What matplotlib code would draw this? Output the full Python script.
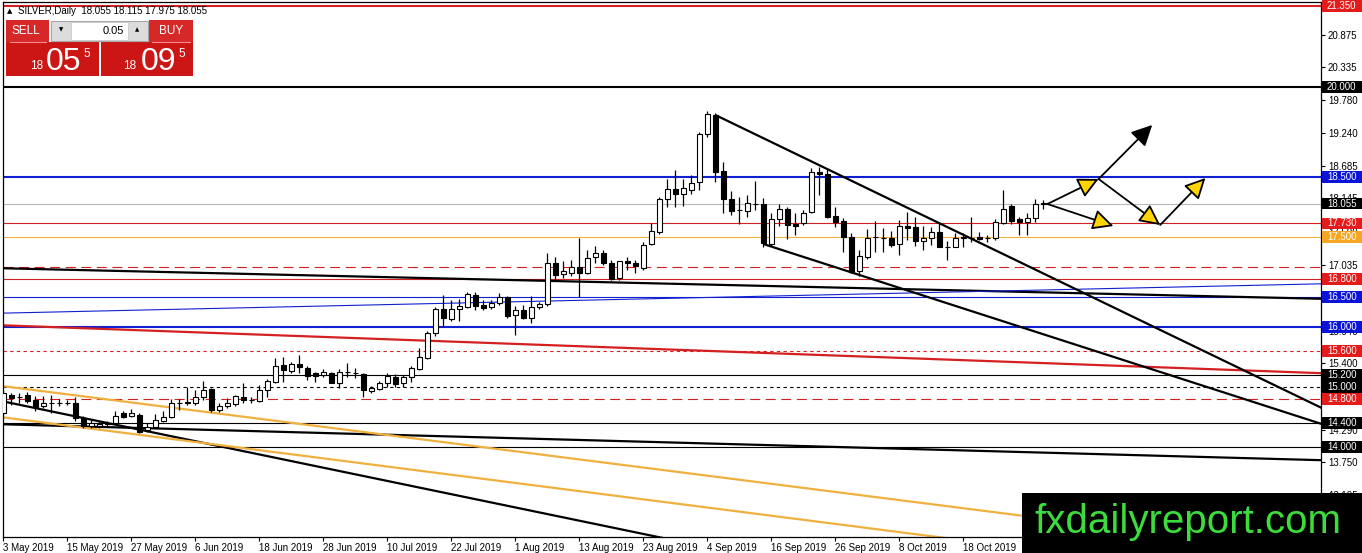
import numpy as np
import matplotlib
matplotlib.use("Agg")
import matplotlib.pyplot as plt
from matplotlib.patches import Rectangle, FancyArrowPatch
from matplotlib.transforms import blended_transform_factory

plt.rcParams['font.family'] = ['Liberation Sans', 'DejaVu Sans']

# ---------------- data (daily SILVER candles, 3 May 2019 .. 1 Nov 2019) ----------------
opens = [14.567, 14.867, 14.833, 14.867, 14.783, 14.683, 14.733, 14.733, 14.733, 14.733,
         14.483, 14.35, 14.35, 14.40, 14.40, 14.567, 14.517, 14.533, 14.283, 14.333,
         14.433, 14.50, 14.733, 14.75, 14.733, 14.833, 14.967, 14.617, 14.683, 14.717,
         14.833, 14.783, 14.767, 14.95, 15.083, 15.367, 15.267, 15.383, 15.317, 15.233,
         15.20, 15.233, 15.067, 15.25, 15.233, 15.217, 14.933, 14.967, 15.067, 15.167,
         15.067, 15.167, 15.30, 15.483, 15.90, 16.30, 16.133, 16.30, 16.333, 16.533,
         16.367, 16.333, 16.40, 16.50, 16.20, 16.283, 16.15, 16.333, 16.383, 17.067,
         16.883, 16.90, 17.00, 16.90, 17.167, 17.233, 17.067, 16.817, 17.10, 17.067,
         16.983, 17.383, 17.583, 18.133, 18.30, 18.217, 18.283, 18.417, 19.217, 19.533,
         18.60, 18.133, 17.95, 17.933, 18.05, 18.05, 17.383, 17.80, 17.967, 17.717,
         17.733, 17.917, 18.583, 18.55, 17.85, 17.767, 17.50, 16.933, 17.167, 17.50,
         17.483, 17.483, 17.383, 17.683, 17.667, 17.433, 17.483, 17.583, 17.333, 17.333,
         17.483, 17.483, 17.50, 17.483, 17.483, 17.733, 18.017, 17.80, 17.75, 17.817,
         18.055]
highs = [14.95, 14.90, 14.90, 14.917, 14.85, 14.85, 14.867, 14.80, 14.783, 14.833,
         14.517, 14.45, 14.433, 14.433, 14.60, 14.60, 14.633, 14.567, 14.40, 14.55,
         14.60, 14.80, 14.80, 15.00, 14.95, 15.10, 14.983, 14.733, 14.817, 14.867,
         15.067, 14.833, 15.033, 15.133, 15.483, 15.50, 15.417, 15.533, 15.35, 15.25,
         15.30, 15.25, 15.30, 15.40, 15.317, 15.233, 15.017, 15.10, 15.233, 15.217,
         15.20, 15.35, 15.65, 15.933, 16.333, 16.533, 16.45, 16.467, 16.583, 16.583,
         16.45, 16.45, 16.567, 16.517, 16.35, 16.367, 16.517, 16.417, 17.233, 17.167,
         17.10, 17.117, 17.483, 17.283, 17.35, 17.283, 17.117, 17.10, 17.167, 17.117,
         17.417, 17.733, 18.167, 18.467, 18.617, 18.467, 18.533, 19.25, 19.60, 19.567,
         18.75, 18.267, 18.167, 18.20, 18.433, 18.15, 17.90, 18.05, 18.00, 17.90,
         17.95, 18.65, 18.667, 18.65, 18.00, 17.817, 17.567, 17.283, 17.633, 17.767,
         17.65, 17.60, 17.783, 17.917, 17.833, 17.683, 17.667, 17.733, 17.433, 17.567,
         17.567, 17.833, 17.583, 17.533, 17.80, 18.283, 18.05, 17.833, 17.90, 18.133,
         18.115]
lows = [14.533, 14.70, 14.733, 14.733, 14.60, 14.65, 14.567, 14.683, 14.70, 14.433,
        14.317, 14.317, 14.317, 14.35, 14.383, 14.483, 14.50, 14.233, 14.25, 14.317,
        14.417, 14.483, 14.617, 14.70, 14.70, 14.783, 14.583, 14.583, 14.65, 14.683,
        14.733, 14.733, 14.75, 14.833, 15.067, 15.083, 15.233, 15.233, 15.117, 15.083,
        15.167, 15.067, 14.983, 15.167, 15.15, 14.833, 14.90, 14.95, 15.00, 15.00,
        15.00, 15.083, 15.283, 15.467, 15.85, 16.00, 16.10, 16.10, 16.317, 16.283,
        16.283, 16.30, 16.367, 16.15, 15.867, 16.133, 16.067, 16.30, 16.35, 16.783,
        16.817, 16.85, 16.50, 16.883, 17.067, 17.033, 16.783, 16.783, 16.95, 16.90,
        16.95, 17.367, 17.55, 18.00, 18.00, 18.017, 18.217, 18.283, 19.167, 18.417,
        17.90, 17.867, 17.717, 17.833, 17.95, 17.333, 17.35, 17.683, 17.467, 17.533,
        17.70, 17.90, 18.20, 17.817, 17.667, 17.25, 16.90, 16.85, 17.133, 17.25,
        17.25, 17.333, 17.20, 17.45, 17.35, 17.283, 17.367, 17.333, 17.117, 17.333,
        17.333, 17.417, 17.45, 17.417, 17.45, 17.717, 17.717, 17.533, 17.533, 17.75,
        17.975]
closes = [14.90, 14.817, 14.833, 14.767, 14.667, 14.733, 14.733, 14.733, 14.733, 14.483,
          14.35, 14.40, 14.383, 14.383, 14.517, 14.50, 14.567, 14.25, 14.333, 14.45,
          14.50, 14.733, 14.733, 14.733, 14.833, 14.95, 14.617, 14.683, 14.733, 14.85,
          14.783, 14.783, 14.95, 15.10, 15.35, 15.283, 15.383, 15.333, 15.183, 15.183,
          15.25, 15.067, 15.25, 15.25, 15.233, 14.95, 14.983, 15.067, 15.183, 15.05,
          15.167, 15.317, 15.50, 15.90, 16.30, 16.15, 16.30, 16.35, 16.55, 16.35,
          16.317, 16.40, 16.50, 16.183, 16.283, 16.15, 16.333, 16.383, 17.067, 16.867,
          16.933, 17.00, 16.90, 17.15, 17.233, 17.067, 16.80, 17.10, 17.067, 17.017,
          17.367, 17.60, 18.133, 18.30, 18.217, 18.317, 18.40, 19.217, 19.55, 18.583,
          18.133, 17.933, 17.95, 18.067, 18.05, 17.40, 17.80, 17.967, 17.70, 17.683,
          17.90, 18.583, 18.55, 17.833, 17.75, 17.50, 16.917, 17.183, 17.483, 17.50,
          17.483, 17.367, 17.683, 17.65, 17.433, 17.483, 17.583, 17.333, 17.333, 17.483,
          17.50, 17.483, 17.467, 17.483, 17.75, 17.967, 17.767, 17.75, 17.817, 18.05,
          18.055]

date_labels = ["3 May 2019", "15 May 2019", "27 May 2019", "6 Jun 2019", "18 Jun 2019",
               "28 Jun 2019", "10 Jul 2019", "22 Jul 2019", "1 Aug 2019", "13 Aug 2019",
               "23 Aug 2019", "4 Sep 2019", "16 Sep 2019", "26 Sep 2019", "8 Oct 2019",
               "18 Oct 2019", "30 Oct 2019"]
date_label_bars = [0, 8, 16, 24, 32, 40, 48, 56, 64, 72, 80, 88, 96, 104, 112, 120, 128]

price_ticks = [20.875, 20.335, 19.780, 19.240, 18.685, 18.145, 17.590, 17.035, 16.480,
               15.940, 15.400, 14.845, 14.290, 13.750, 13.195]

RED, BLACK, BLUE, SILVER, ORANGE = '#d42020', '#000000', '#1020d0', '#b8b8b8', '#f0b040'
level_prices = [21.35, 20.0, 18.5, 18.055, 17.73, 17.5, 17.0, 16.8, 16.5, 16.0,
                15.6, 15.2, 15.0, 14.8, 14.4, 14.0]
level_colors = [RED, BLACK, BLUE, SILVER, RED, ORANGE, RED, RED, BLUE, BLUE,
                RED, BLACK, BLACK, RED, BLACK, BLACK]
level_widths = [1.5, 1.5, 1.5, 0.8, 0.8, 0.8, 0.8, 0.8, 0.8, 1.5,
                0.8, 0.8, 0.8, 0.8, 0.8, 0.8]
level_styles = ['-', '-', '-', '-', '-', '-', (0, (9, 5)), '-', '-', '-',
                (0, (3, 3)), '-', (0, (3, 3)), (0, (9, 5)), '-', '-']

box_prices = [21.35, 20.0, 18.5, 18.055, 17.73, 17.5, 16.8, 16.5, 16.0, 15.6,
              15.2, 15.0, 14.8, 14.4, 14.0]
box_colors = ['#e31b1b', BLACK, '#0a14d8', BLACK, '#e31b1b', '#f5a623', '#e31b1b',
              '#0a14d8', '#0a14d8', '#e31b1b', BLACK, BLACK, '#e31b1b', BLACK, BLACK]

# trend lines: (bar index, price) anchor pairs
trend_x0 = [-0.4, -0.4, -0.4, -0.4, -0.4, -0.4, -0.4, 89.0, 95.0]
trend_p0 = [16.98, 16.23, 16.03, 14.38, 14.77, 15.02, 14.50, 19.533, 17.383]
trend_x1 = [164.8, 164.8, 164.8, 164.8, 164.8, 164.8, 164.8, 164.8, 164.8]
trend_p1 = [16.47, 16.72, 15.23, 13.78, 10.21, 12.22, 11.68, 14.65, 14.383]
trend_colors = [BLACK, BLUE, RED, BLACK, BLACK, ORANGE, ORANGE, BLACK, BLACK]
trend_widths = [1.6, 0.8, 1.6, 1.6, 1.6, 1.6, 1.6, 1.6, 1.6]

# projection arrows (bar index, price)
arrow_from_x = [130.5, 130.5, 136.9, 136.9, 144.6]
arrow_from_p = [18.05, 18.05, 18.467, 18.467, 17.70]
arrow_to_x = [136.9, 138.75, 143.6, 144.6, 150.25]
arrow_to_p = [18.467, 17.683, 19.367, 17.70, 18.483]
arrow_fill = ['#ffd400', '#ffd400', '#000000', '#ffd400', '#ffd400']

# ---------------- figure ----------------
W, H = 1362, 553
fig = plt.figure(figsize=(W / 100, H / 100), dpi=100, facecolor='white')
ax = fig.add_axes([3 / W, 16 / H, 1318 / W, 535 / H])
ax.set_facecolor('white')
ax.set_xlim(-0.05, 164.7)
ax.set_ylim(12.5, 21.4167)

for p, c, lw, ls in zip(level_prices, level_colors, level_widths, level_styles):
    ax.axhline(p, color=c, lw=lw, ls=ls, zorder=2)

for x0, p0, x1, p1, c, lw in zip(trend_x0, trend_p0, trend_x1, trend_p1, trend_colors, trend_widths):
    ax.plot([x0, x1], [p0, p1], color=c, lw=lw, zorder=2.5, solid_capstyle='butt')

o = np.array(opens); h = np.array(highs); l = np.array(lows); c = np.array(closes)
idx = np.arange(len(o))
up = c >= o
body_lo = np.minimum(o, c)
body_h = np.maximum(np.abs(c - o), 0.008)
ax.vlines(idx, l, h, color='black', lw=0.9, zorder=3)
ax.bar(idx, body_h, bottom=body_lo, width=0.62, color=np.where(up, 'white', 'black'),
       edgecolor='black', linewidth=0.8, zorder=4)

for x0, p0, x1, p1, fc in zip(arrow_from_x, arrow_from_p, arrow_to_x, arrow_to_p, arrow_fill):
    ax.add_patch(FancyArrowPatch((x0, p0), (x1, p1), arrowstyle='-|>,head_length=0.9,head_width=0.45',
                                 mutation_scale=14, facecolor=fc, edgecolor='black', lw=1.3,
                                 shrinkA=0, shrinkB=0, zorder=6))

# axes styling
for s in ['left', 'top', 'right', 'bottom']:
    ax.spines[s].set_linewidth(0.9)
    ax.spines[s].set_color('black')
ax.yaxis.tick_right()
ax.set_yticks(price_ticks)
ax.set_yticklabels([f"{t:.3f}" for t in price_ticks])
ax.tick_params(axis='y', direction='out', length=3, width=0.8, pad=2, labelsize=7, colors='black')
ax.set_xticks(date_label_bars)
ax.set_xticklabels(date_labels, ha='left')
ax.tick_params(axis='x', direction='out', length=3, width=0.8, pad=1.5, labelsize=7)

# ---------------- overlay in pixel coordinates ----------------
ov = fig.add_axes([0, 0, 1, 1], zorder=10)
ov.set_xlim(0, W); ov.set_ylim(H, 0); ov.axis('off'); ov.patch.set_alpha(0)

bt = blended_transform_factory(ov.transData, ax.transData)
for p, bc in zip(box_prices, box_colors):
    ov.add_patch(Rectangle((1322, p - 0.092), 40, 0.184, transform=bt, facecolor=bc,
                           edgecolor='none', clip_on=False, zorder=5))
    ov.text(1327, p, f"{p:.3f}", transform=bt, color='white', fontsize=7,
            va='center', ha='left', zorder=6, clip_on=False)

# title
ov.text(7, 11, "\u25B2", fontsize=5, va='center', ha='left', family=['DejaVu Sans'])
ov.text(18, 11, "SILVER,Daily  18.055 18.115 17.975 18.055", fontsize=7, va='center', ha='left')

# trade panel
PR = '#cc1616'
ov.add_patch(Rectangle((6, 20), 43, 22, facecolor='#d62828', edgecolor='none'))
ov.add_patch(Rectangle((6, 42), 93, 34, facecolor=PR, edgecolor='none'))
ov.add_patch(Rectangle((149, 20), 44, 22, facecolor='#d62828', edgecolor='none'))
ov.add_patch(Rectangle((101, 42), 92, 34, facecolor=PR, edgecolor='none'))
ov.plot([10, 46], [42, 42], color='#f08a8a', lw=0.8)
ov.plot([152, 190], [42, 42], color='#f08a8a', lw=0.8)
ov.add_patch(Rectangle((51, 21), 97, 20, facecolor='#dcdcdc', edgecolor='#a8a8a8', lw=0.8))
ov.add_patch(Rectangle((71, 22), 57, 18, facecolor='white', edgecolor='#c8c8c8', lw=0.6))
ov.text(61, 30, "\u25BC", fontsize=4, ha='center', va='center', family=['DejaVu Sans'])
ov.text(137, 30, "\u25B2", fontsize=4, ha='center', va='center', family=['DejaVu Sans'])
ov.text(124, 30.5, "0.05", fontsize=8, ha='right', va='center')
ov.text(26, 31, "SELL", fontsize=8.5, ha='center', va='center', color='white')
ov.text(171, 31, "BUY", fontsize=8.5, ha='center', va='center', color='white')
ov.text(30, 69, "18", fontsize=8.5, ha='left', va='baseline', color='white')
ov.text(46, 70, "05", fontsize=23, ha='left', va='baseline', color='white')
ov.text(83, 54, "5", fontsize=8.5, ha='left', va='center', color='white')
ov.text(123, 69, "18", fontsize=8.5, ha='left', va='baseline', color='white')
ov.text(141, 70, "09", fontsize=23, ha='left', va='baseline', color='white')
ov.text(178, 54, "5", fontsize=8.5, ha='left', va='center', color='white')

# watermark
ov.add_patch(Rectangle((1022, 493), 340, 60, facecolor='black', edgecolor='none', zorder=8))
ov.text(1188, 522, "fxdailyreport.com", fontsize=29, color='#3ddc3d', ha='center',
        va='center', zorder=9)

fig.savefig("out.png", dpi=100, facecolor='white')
